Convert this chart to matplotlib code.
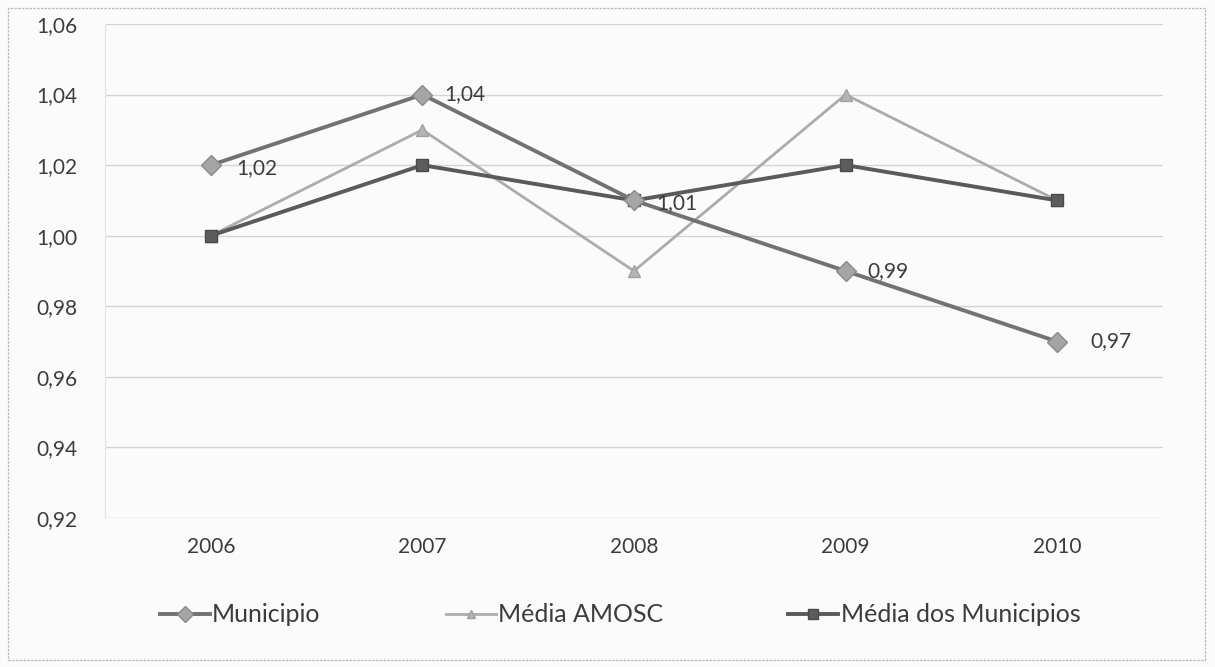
import matplotlib
matplotlib.use("Agg")
import matplotlib.pyplot as plt
from matplotlib.patches import Rectangle

plt.rcParams['font.family'] = ['Lato', 'DejaVu Sans']

anos = ["2006", "2007", "2008", "2009", "2010"]
municipio = [1.02, 1.04, 1.01, 0.99, 0.97]
media_amosc = [1.00, 1.03, 0.99, 1.04, 1.01]
media_municipios = [1.00, 1.02, 1.01, 1.02, 1.01]
rotulos_municipio = ["1,02", "1,04", "1,01", "0,99", "0,97"]
y_ticks = [0.92, 0.94, 0.96, 0.98, 1.00, 1.02, 1.04, 1.06]

fig = plt.figure(figsize=(12.15, 6.67), dpi=100)
fig.patch.set_facecolor("#fbfbfb")

# outer chart frame
fig.add_artist(Rectangle((8 / 1215, 1 - 660 / 667), 1197 / 1215, 652 / 667,
                         transform=fig.transFigure, fill=False,
                         edgecolor="#b8b8b8", linewidth=0.9, linestyle=(0, (2, 1))))

ax = fig.add_axes([105 / 1215, 1 - 518 / 667, (1163 - 105) / 1215, (518 - 24) / 667])
ax.set_facecolor("#fbfbfb")

x = list(range(len(anos)))
ax.plot(x, media_amosc, color="#acacac", linewidth=2.0, marker="^",
        markersize=8, markerfacecolor="#b4b4b4", markeredgecolor="#a0a0a0",
        label="Média AMOSC", zorder=3)
ax.plot(x, media_municipios, color="#5a5a5a", linewidth=2.8, marker="s",
        markersize=9, markerfacecolor="#5c5c5c", markeredgecolor="#4a4a4a",
        label="Média dos Municipios", zorder=4)
ax.plot(x, municipio, color="#727272", linewidth=2.8, marker="D",
        markersize=10, markerfacecolor="#a5a5a5", markeredgecolor="#8a8a8a",
        label="Municipio", zorder=5)

offsets = [(18, -2), (16, 0), (16, -2), (16, 0), (24, 0)]
for xi, yi, txt, off in zip(x, municipio, rotulos_municipio, offsets):
    ax.annotate(txt, (xi, yi), xytext=off, textcoords="offset points",
                ha="left", va="center", fontsize=15, color="#3c3c3c", zorder=6)

ax.set_xlim(-0.5, len(anos) - 0.5)
ax.set_ylim(0.92, 1.06)
ax.set_yticks(y_ticks)
ax.set_yticklabels([f"{v:.2f}".replace(".", ",") for v in y_ticks])
ax.set_xticks(x)
ax.set_xticklabels(anos)
ax.tick_params(axis="both", length=0, labelsize=15, colors="#3c3c3c")
ax.tick_params(axis="y", pad=20)
ax.tick_params(axis="x", pad=14)
ax.grid(axis="y", color="#d4d4d4", linewidth=1.0)
ax.set_axisbelow(True)
for side in ["top", "right", "bottom"]:
    ax.spines[side].set_visible(False)
ax.spines["left"].set_color("#e4e4e4")

handles, labels = ax.get_legend_handles_labels()
order = [2, 0, 1]
leg = fig.legend([handles[i] for i in order], [labels[i] for i in order],
                 loc="center", bbox_to_anchor=(620 / 1215, 1 - 615 / 667),
                 ncol=3, frameon=False, fontsize=18, handlelength=2.0,
                 handletextpad=0.1, columnspacing=5.0, markerscale=0.8)
for t in leg.get_texts():
    t.set_color("#3c3c3c")

fig.savefig("out.png", dpi=100, facecolor=fig.get_facecolor())
